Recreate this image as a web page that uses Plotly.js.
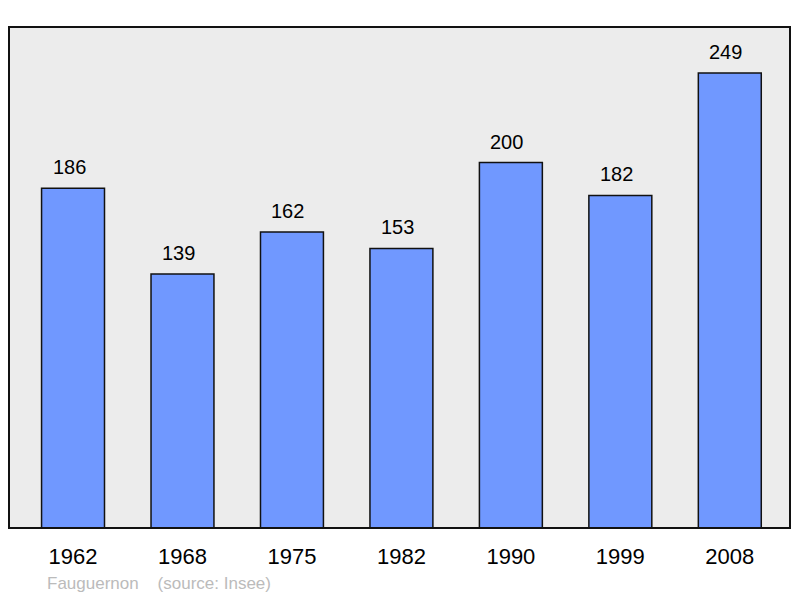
<!DOCTYPE html>
<html>
<head>
<meta charset="utf-8">
<script src="https://cdn.plot.ly/plotly-3.0.1.min.js"></script>
<style>
  html, body { margin: 0; padding: 0; background: #fff; }
  #chart { width: 800px; height: 598px; }
</style>
</head>
<body>
<div id="chart"></div>
<script>
// population by census year
const years = ["1962", "1968", "1975", "1982", "1990", "1999", "2008"];
const population = [186, 139, 162, 153, 200, 182, 249];
const sourceNote = "Fauguernon    (source: Insee)";

const idx = years.map((_, i) => i);

const trace = {
    x: idx,
    y: population,
    type: 'bar',
    width: 0.575,
    marker: { color: '#7098ff', line: { color: '#111', width: 1.5 } },
    hoverinfo: 'skip'
};

const labels = population.map((v, i) => ({
    x: i, y: v, text: String(v),
    showarrow: false, yanchor: 'bottom', yshift: 8, xshift: -4,
    font: { family: 'Liberation Sans, Arial, sans-serif', size: 20, color: '#000' }
}));

labels.push({
    xref: 'paper', yref: 'paper', x: 0.046, y: -0.11,
    xanchor: 'left', yanchor: 'middle', showarrow: false,
    text: sourceNote,
    font: { family: 'Liberation Sans, Arial, sans-serif', size: 17, color: '#bbbbbb' }
});

const layout = {
    width: 800, height: 598,
    margin: { l: 9, r: 10, t: 27, b: 70 },
    paper_bgcolor: '#fff',
    plot_bgcolor: '#ececec',
    showlegend: false,
    xaxis: {
        range: [-0.585, 6.55],
        tickvals: idx, ticktext: years,
        ticks: '', showgrid: false, zeroline: false, showline: false,
        ticklabelstandoff: 13,
        tickfont: { family: 'Liberation Sans, Arial, sans-serif', size: 22, color: '#000' }
    },
    yaxis: {
        range: [0, 274.2],
        showgrid: false, zeroline: false, showline: false,
        showticklabels: false, ticks: ''
    },
    shapes: [{
        type: 'rect', xref: 'paper', yref: 'paper',
        x0: 0, x1: 1, y0: 0, y1: 1,
        line: { color: '#111', width: 2 }
    }],
    annotations: labels
};

Plotly.newPlot('chart', [trace], layout, { staticPlot: true });
</script>
</body>
</html>
